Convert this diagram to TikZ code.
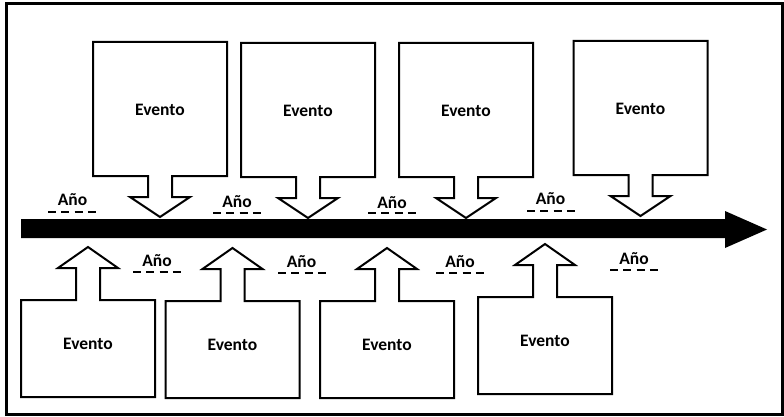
\documentclass[tikz,border=0pt]{standalone}
\usepackage{fontspec}
\setmainfont{Carlito}
\begin{document}
\begin{tikzpicture}[x=1pt,y=-1pt,
  callout/.style={draw=black,line width=2pt,fill=white,line join=miter},
  evt/.style={font=\fontsize{17.5}{20}\selectfont\bfseries,text=black,inner sep=0pt},
  yr/.style={font=\fontsize{17.5}{20}\selectfont\bfseries,text=black,inner sep=0pt},
  dashline/.style={draw=black,line width=1.6pt,dash pattern=on 8pt off 5.3pt},
  frame/.style={draw=black,line width=3pt}]
\useasboundingbox (0,0) rectangle (784,417);
\fill[white] (0,0) rectangle (784,417);
\draw[frame] (6,4) rectangle (782,414);

% timeline
\fill[black] (21,219) -- (725,219) -- (725,211) -- (767,229.5) -- (725,248) -- (725,238) -- (21,238) -- cycle;
\coordinate (tlstart) at (21,228.5);
\coordinate (tlend) at (767,229.5);

% top callouts: #1 name, #2 centre x, #3 top y
\newcommand\topcall[3]{%
  \draw[callout] (#2-67,#3) -- (#2+67,#3) -- (#2+67,#3+134) -- (#2+12,#3+134) -- (#2+12,#3+155)
    -- (#2+30,#3+155) -- (#2,#3+175) -- (#2-30,#3+155) -- (#2-12,#3+155) -- (#2-12,#3+134)
    -- (#2-67,#3+134) -- cycle;
  \node[evt] (#1) at (#2,#3+68) {Evento};}
% bottom callouts: #1 name, #2 centre x, #3 box top y
\newcommand\botcall[3]{%
  \draw[callout] (#2-67,#3+97) -- (#2+67,#3+97) -- (#2+67,#3) -- (#2+12,#3) -- (#2+12,#3-32)
    -- (#2+30,#3-32) -- (#2,#3-53) -- (#2-30,#3-32) -- (#2-12,#3-32) -- (#2-12,#3)
    -- (#2-67,#3) -- cycle;
  \node[evt] (#1) at (#2,#3+44) {Evento};}

\topcall{t1}{160}{42}
\topcall{t2}{308}{43}
\topcall{t3}{466}{43}
\topcall{t4}{640.5}{41}

\botcall{b1}{88}{300}
\botcall{b2}{232.5}{301}
\botcall{b3}{387}{301}
\botcall{b4}{545}{297}

% year labels
\node[yr] (y1) at (72.5,200) {Año};
\draw[dashline] (48,212) -- (96,212);
\node[yr] (y2) at (237,201.5) {Año};
\draw[dashline] (213,213) -- (261,213);
\node[yr] (y3) at (392,202.5) {Año};
\draw[dashline] (368,213) -- (416,213);
\node[yr] (y4) at (550.5,199) {Año};
\draw[dashline] (527,211) -- (575,211);

\node[yr] (y5) at (157,261) {Año};
\draw[dashline] (133,272) -- (181,272);
\node[yr] (y6) at (301.5,262) {Año};
\draw[dashline] (278,273) -- (326,273);
\node[yr] (y7) at (460,261.5) {Año};
\draw[dashline] (436,273) -- (484,273);
\node[yr] (y8) at (634,259) {Año};
\draw[dashline] (610,270) -- (658,270);
\end{tikzpicture}
\end{document}
